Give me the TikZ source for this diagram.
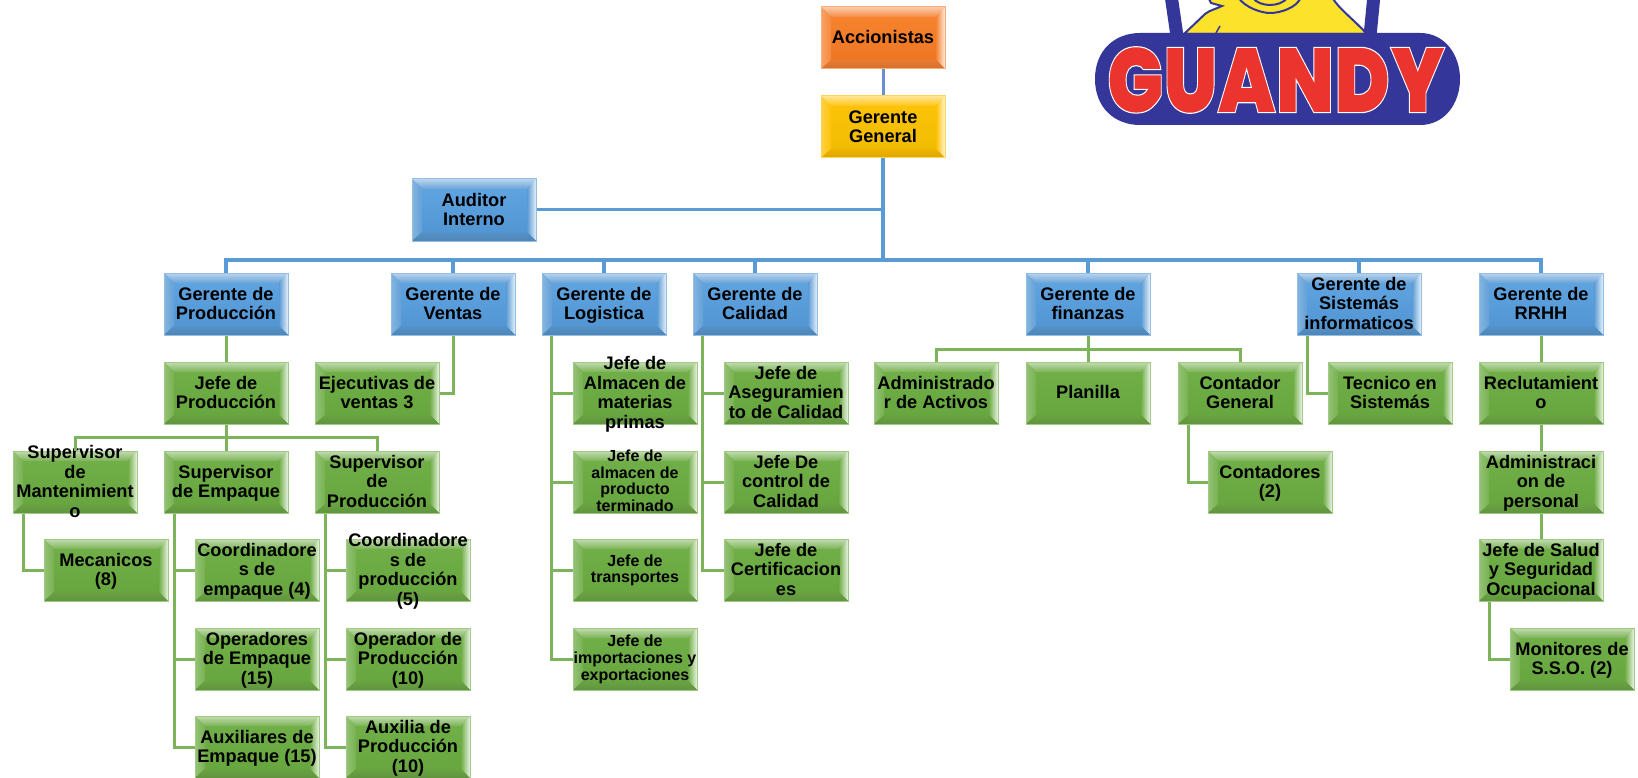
\documentclass[tikz,border=0pt]{standalone}
\usepackage{fontspec}
\usepackage{graphicx}
\setmainfont{Liberation Sans}
\newfontfamily\logofont[FakeBold=1.2]{Poppins Black}
\usetikzlibrary{calc}
\definecolor{gmid}{HTML}{70AD47}\definecolor{gtop}{HTML}{72B04A}\definecolor{gbot}{HTML}{66A53E}
\definecolor{bmid}{HTML}{5B9BD5}\definecolor{btop}{HTML}{62A6E2}\definecolor{bbot}{HTML}{4F94D2}
\definecolor{omid}{HTML}{F58233}\definecolor{otop}{HTML}{F98530}\definecolor{obot}{HTML}{EC7420}
\definecolor{ymid}{HTML}{FFC000}\definecolor{ytop}{HTML}{FFC30A}\definecolor{ybot}{HTML}{EDBC00}
\definecolor{glink}{HTML}{7DB35A}\definecolor{blink}{HTML}{5B9BD5}\definecolor{plink}{HTML}{6A8FD0}
\definecolor{logoblue}{HTML}{35369A}\definecolor{logored}{HTML}{EA342D}\definecolor{logoyel}{HTML}{FCE22A}
\newcommand\bevelart[1]{%
  \def\dd{10pt}\def\dr{9pt}\def\db{9pt}%
  \coordinate (NWo) at (path picture bounding box.north west);
  \coordinate (NEo) at (path picture bounding box.north east);
  \coordinate (SWo) at (path picture bounding box.south west);
  \coordinate (SEo) at (path picture bounding box.south east);
  \coordinate (NWi) at ([shift={(\dd,-\dd)}]NWo);
  \coordinate (NEi) at ([shift={(-\dr,-\dd)}]NEo);
  \coordinate (SWi) at ([shift={(\dd,\db)}]SWo);
  \coordinate (SEi) at ([shift={(-\dr,\db)}]SEo);
  \path[top color=#1!42!white,bottom color=#1!92!white] (NWo)--(NEo)--(NEi)--(NWi)--cycle;
  \path[left color=#1!74!white,right color=#1!95!white] (NWo)--(NWi)--(SWi)--(SWo)--cycle;
  \path[left color=#1,right color=#1!15!white] (NEo)--(NEi)--(SEi)--(SEo)--cycle;
  \path[top color=#1!94!black,bottom color=#1!86!black] (SWo)--(SWi)--(SEi)--(SEo)--cycle;
}
\newcommand\boxlines[1]{\raisebox{-.34em}[0pt][0pt]{\makebox[0pt]{\begin{tabular}[c]{@{}c@{}}#1\end{tabular}}}}
\tikzset{
  bevelbox/.style n args={3}{rectangle,inner sep=0pt,minimum width=124pt,minimum height=62pt,
    top color=#2,bottom color=#3,draw=#1!65!white,line width=1pt,text=black,
    font=\fontsize{18.2}{19.5}\selectfont\bfseries,path picture={\bevelart{#1}}},
  gbox/.style={bevelbox={gmid}{gtop}{gbot}},
  bbox/.style={bevelbox={bmid}{btop}{bbot}},
  obox/.style={bevelbox={omid}{otop}{obot}},
  ybox/.style={bevelbox={ymid}{ytop}{ybot}},
  smalltext/.style={font=\fontsize{16}{16.8}\selectfont\bfseries},
  bluelink/.style={draw=blink,line width=3.2pt},
  thinblue/.style={draw=blink,line width=3pt},
  greenlink/.style={draw=glink,line width=3pt},
}
\begin{document}
\begin{tikzpicture}[x=1pt,y=-1pt]
\useasboundingbox (0,0) rectangle (1638,778);
% logo
\begin{scope}
\clip (0,0) rectangle (1638,778);
\path[draw=logoblue,line width=13pt] (1171,-5) -- (1177,36);
\path[draw=logoblue,line width=13pt] (1374,-5) -- (1370,36);
\path[fill=logoyel,draw=logoblue,line width=2pt] (1184,34) -- (1205,14) .. controls (1210,10) and (1216,9) .. (1222,6) -- (1211,3) -- (1208,-3) -- (1332,-3) .. controls (1338,8) and (1352,18) .. (1367,34) -- cycle;
\path[draw=logoblue,line width=2pt] (1238,-3) .. controls (1245,8) and (1262,13) .. (1270,13) .. controls (1280,13) and (1297,8) .. (1301,-3);
\path[draw=logoblue,line width=2pt] (1252,-3) .. controls (1256,3) and (1264,5) .. (1270,5) .. controls (1276,5) and (1284,3) .. (1288,-3);
\path[draw=logoblue,line width=1.5pt] (1216,33) -- (1220,26);
\end{scope}
\path[fill=logoblue] (1095,79) .. controls (1095,50) and (1115,33) .. (1140,33) -- (1420,33) .. controls (1445,33) and (1460,55) .. (1460,79) .. controls (1460,103) and (1445,125) .. (1420,125) -- (1140,125) .. controls (1115,125) and (1095,108) .. (1095,79) -- cycle;
\node[inner sep=0pt,text=logored] (logo) at (1276,80) {\resizebox{338pt}{66pt}{\logofont\color{logored}\special{pdf:code 1 1 1 RG}GUANDY}};
% top
\node[obox] (acc) at (883,38) {\boxlines{Accionistas}};
\node[ybox] (gg) at (883,127) {\boxlines{Gerente\\General}};
\node[bbox] (aud) at (474,210) {\boxlines{Auditor\\Interno}};
% managers
\node[bbox] (gprod) at (226,304) {\boxlines{Gerente de\\Producción}};
\node[bbox] (gven) at (453,304) {\boxlines{Gerente de\\Ventas}};
\node[bbox] (glog) at (604,304) {\boxlines{Gerente de\\Logistica}};
\node[bbox] (gcal) at (755,304) {\boxlines{Gerente de\\Calidad}};
\node[bbox] (gfin) at (1088,304) {\boxlines{Gerente de\\finanzas}};
\node[bbox] (gsis) at (1359,304) {\boxlines{Gerente de\\Sistemás\\informaticos}};
\node[bbox] (grh) at (1541,304) {\boxlines{Gerente de\\RRHH}};
% row 2
\node[gbox] (jprod) at (226,393) {\boxlines{Jefe de\\Producción}};
\node[gbox] (ejec) at (377,393) {\boxlines{Ejecutivas de\\ventas 3}};
\node[gbox] (jalm) at (635,393) {\boxlines{Jefe de\\Almacen de\\materias\\primas}};
\node[gbox] (jase) at (786,393) {\boxlines{Jefe de\\Aseguramien\\to de Calidad}};
\node[gbox] (adm) at (936,393) {\boxlines{Administrado\\r de Activos}};
\node[gbox] (pla) at (1088,393) {\boxlines{Planilla}};
\node[gbox] (cont) at (1240,393) {\boxlines{Contador\\General}};
\node[gbox] (tec) at (1390,393) {\boxlines{Tecnico en\\Sistemás}};
\node[gbox] (rec) at (1541,393) {\boxlines{Reclutamient\\o}};
% row 3
\node[gbox] (smant) at (75,482) {\boxlines{Supervisor\\de\\Mantenimient\\o}};
\node[gbox] (semp) at (226,482) {\boxlines{Supervisor\\de Empaque}};
\node[gbox] (sprod) at (377,482) {\boxlines{Supervisor\\de\\Producción}};
\node[gbox,smalltext] (jpt) at (635,482) {\boxlines{Jefe de\\almacen de\\producto\\terminado}};
\node[gbox] (jctl) at (786,482) {\boxlines{Jefe De\\control de\\Calidad}};
\node[gbox] (ctds) at (1270,482) {\boxlines{Contadores\\(2)}};
\node[gbox] (apers) at (1541,482) {\boxlines{Administraci\\on de\\personal}};
% row 4
\node[gbox] (mec) at (106,570) {\boxlines{Mecanicos\\(8)}};
\node[gbox] (cemp) at (257,570) {\boxlines{Coordinadore\\s de\\empaque (4)}};
\node[gbox] (cprod) at (408,570) {\boxlines{Coordinadore\\s de\\producción\\(5)}};
\node[gbox,smalltext] (jtr) at (635,570) {\boxlines{Jefe de\\transportes}};
\node[gbox] (jcer) at (786,570) {\boxlines{Jefe de\\Certificacion\\es}};
\node[gbox] (jsal) at (1541,570) {\boxlines{Jefe de Salud\\y Seguridad\\Ocupacional}};
% row 5
\node[gbox] (oemp) at (257,659) {\boxlines{Operadores\\de Empaque\\(15)}};
\node[gbox] (oprod) at (408,659) {\boxlines{Operador de\\Producción\\(10)}};
\node[gbox,smalltext] (jimp) at (635,659) {\boxlines{Jefe de\\importaciones y\\exportaciones}};
\node[gbox] (mon) at (1572,659) {\boxlines{Monitores de\\S.S.O. (2)}};
% row 6
\node[gbox] (aemp) at (257,747) {\boxlines{Auxiliares de\\Empaque (15)}};
\node[gbox] (aprod) at (408,747) {\boxlines{Auxilia de\\Producción\\(10)}};
% bus coordinates
\coordinate (bus) at (883,260);
\coordinate (busb) at (226,437);
\coordinate (busc) at (1088,349);
% blue links
\draw[draw=plink,line width=3pt] (acc) -- (gg);
\draw[bluelink,line width=4pt] (gg.south) -- (bus);
\draw[thinblue] (aud.east) -| (gg.south);
\foreach \m in {gprod,gven,glog,gcal,gfin,gsis,grh} \draw[bluelink] (\m.north) |- (bus);
% green links
\draw[greenlink] (gprod) -- (jprod);
\draw[greenlink] (jprod) -- (semp);
\draw[greenlink] (smant.north) |- (busb);
\draw[greenlink] (sprod.north) |- (busb);
\draw[greenlink] (gfin) -- (pla);
\draw[greenlink] (adm.north) |- (busc);
\draw[greenlink] (cont.north) |- (busc);
\draw[greenlink] (grh) -- (rec);
\draw[greenlink] (rec) -- (apers);
\draw[greenlink] (apers) -- (jsal);
\draw[greenlink] (gven.south) |- (ejec.east);
\draw[greenlink] ($(smant.south west)+(11,0)$) |- (mec.west);
\foreach \c in {cemp,oemp,aemp} \draw[greenlink] ($(semp.south west)+(11,0)$) |- (\c.west);
\foreach \c in {cprod,oprod,aprod} \draw[greenlink] ($(sprod.south west)+(11,0)$) |- (\c.west);
\foreach \c in {jalm,jpt,jtr,jimp} \draw[greenlink] ($(glog.south west)+(10,0)$) |- (\c.west);
\foreach \c in {jase,jctl,jcer} \draw[greenlink] ($(gcal.south west)+(10,0)$) |- (\c.west);
\draw[greenlink] ($(cont.south west)+(11,0)$) |- (ctds.west);
\draw[greenlink] ($(gsis.south west)+(11,0)$) |- (tec.west);
\draw[greenlink] ($(jsal.south west)+(11,0)$) |- (mon.west);
\end{tikzpicture}
\end{document}
